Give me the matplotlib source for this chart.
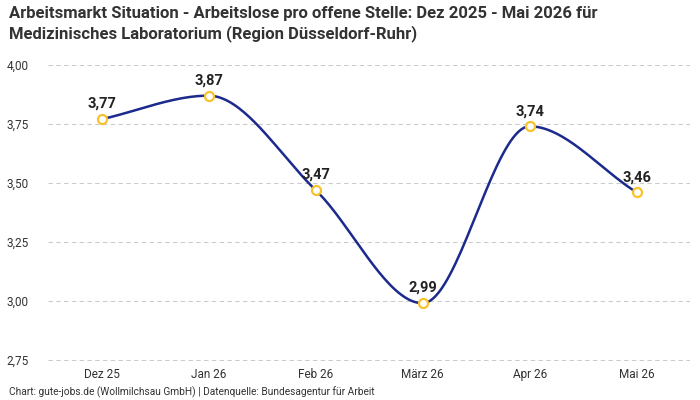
import numpy as np
import matplotlib.pyplot as plt
from matplotlib import font_manager

months = ["Dez 25", "Jan 26", "Feb 26", "März 26", "Apr 26", "Mai 26"]
values = [3.77, 3.87, 3.47, 2.99, 3.74, 3.46]
y_ticks = [2.75, 3.00, 3.25, 3.50, 3.75, 4.00]

names = {f.name for f in font_manager.fontManager.ttflist}
cond = "Liberation Sans Narrow" if "Liberation Sans Narrow" in names else "Roboto"
plt.rcParams['font.family'] = [cond, 'DejaVu Sans']


def monotone(x, y, n=40):
    # monotone cubic interpolation (Fritsch-Carlson), like d3 curveMonotoneX
    x = np.asarray(x, float)
    y = np.asarray(y, float)
    h = np.diff(x)
    d = np.diff(y) / h
    m = np.zeros_like(y)
    m[0], m[-1] = d[0], d[-1]
    for i in range(1, len(y) - 1):
        if d[i - 1] * d[i] <= 0:
            m[i] = 0
        else:
            w1 = 2 * h[i] + h[i - 1]
            w2 = h[i] + 2 * h[i - 1]
            m[i] = (w1 + w2) / (w1 / d[i - 1] + w2 / d[i])
    xs, ys = [], []
    for i in range(len(x) - 1):
        t = np.linspace(0, 1, n)
        h00 = 2 * t**3 - 3 * t**2 + 1
        h10 = t**3 - 2 * t**2 + t
        h01 = -2 * t**3 + 3 * t**2
        h11 = t**3 - t**2
        xs.append(x[i] + t * h[i])
        ys.append(h00 * y[i] + h10 * h[i] * m[i] + h01 * y[i + 1] + h11 * h[i] * m[i + 1])
    return np.concatenate(xs), np.concatenate(ys)


fig = plt.figure(figsize=(7, 4), dpi=100)
ax = fig.add_axes([0.0686, 0.0975, 0.9174, 0.74])

x = np.arange(len(months))
sx, sy = monotone(x, values)
ax.plot(sx, sy, color='#1b2a8c', linewidth=1.8, zorder=2)
ax.plot(x, values, 'o', markersize=6.5, markerfacecolor='white',
        markeredgecolor='#f7c22c', markeredgewidth=1.6, zorder=3)

for xi, v in zip(x, values):
    ax.text(xi, v + 0.035, f"{v:.2f}".replace('.', ','), ha='center', va='bottom',
            fontsize=10.5, fontweight='bold', color='#222222')

ax.set_xlim(-0.5, 5.5)
ax.set_ylim(2.745, 4.0)
ax.set_yticks(y_ticks)
ax.set_yticklabels([f"{t:.2f}".replace('.', ',') for t in y_ticks])
ax.set_xticks(x)
ax.set_xticklabels(months)
ax.grid(axis='y', color='#cccccc', linestyle=(0, (4, 3)), linewidth=0.8)
ax.set_axisbelow(True)
for s in ax.spines.values():
    s.set_visible(False)
ax.tick_params(length=0, labelsize=8.5, colors='#333333')
ax.tick_params(axis='y', pad=14)
ax.tick_params(axis='x', pad=5)

fig.text(0.013, 0.985, "Arbeitsmarkt Situation - Arbeitslose pro offene Stelle: Dez 2025 - Mai 2026 für\n"
         "Medizinisches Laboratorium (Region Düsseldorf-Ruhr)",
         ha='left', va='top', fontsize=12, fontweight='bold', color='#333333', linespacing=1.3)
fig.text(0.013, 0.005, "Chart: gute-jobs.de (Wollmilchsau GmbH) | Datenquelle: Bundesagentur für Arbeit",
         ha='left', va='bottom', fontsize=7.3, color='#333333')

fig.savefig('out.png', dpi=100)
